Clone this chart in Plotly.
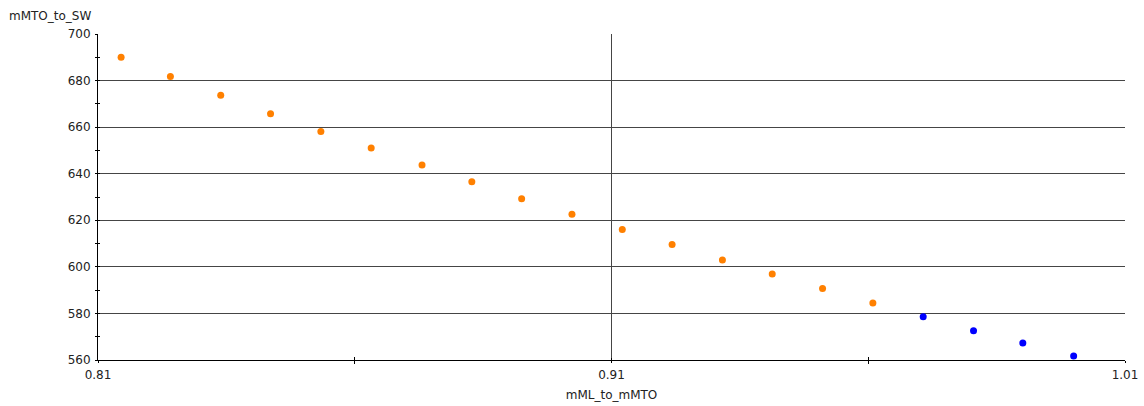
import plotly.graph_objects as go

# mML_to_mMTO sweep and the resulting mMTO_to_SW values
x_orange = [0.8145, 0.8241, 0.8339, 0.8436, 0.8534, 0.8632, 0.8731, 0.8828,
            0.8925, 0.9023, 0.9121, 0.9218, 0.9316, 0.9413, 0.9511, 0.9609]
y_orange = [690.0, 681.7, 673.7, 665.8, 658.1, 651.0, 643.7, 636.5,
            629.3, 622.6, 616.0, 609.6, 602.9, 596.9, 590.7, 584.5]
x_blue = [0.9707, 0.9805, 0.9901, 1.0000]
y_blue = [578.6, 572.6, 567.3, 561.7]

x_ticks = [0.81, 0.91, 1.01]
x_tick_text = ["0.81", "0.91", "1.01"]
y_ticks = [560, 580, 600, 620, 640, 660, 680, 700]

FONT = dict(family="DejaVu Sans", size=12, color="#222222")
GRID = "#454545"

fig = go.Figure()
fig.add_trace(go.Scatter(x=x_orange, y=y_orange, mode="markers",
                         marker=dict(color="#FF8000", size=7), showlegend=False))
fig.add_trace(go.Scatter(x=x_blue, y=y_blue, mode="markers",
                         marker=dict(color="#0000FF", size=7), showlegend=False))

fig.update_layout(
    width=1144, height=406,
    margin=dict(l=98, r=19, t=34, b=46, autoexpand=False),
    paper_bgcolor="white", plot_bgcolor="white",
    font=FONT,
    xaxis=dict(range=[0.81, 1.01], tickvals=x_ticks, ticktext=x_tick_text,
               automargin=False,
               showgrid=True, gridcolor=GRID, gridwidth=1,
               showline=True, linecolor="black", linewidth=1,
               ticks="outside", ticklen=2, tickcolor="black",
               minor=dict(tickvals=[0.86, 0.96], ticks="outside", ticklen=3,
                          tickcolor="black", showgrid=False),
               zeroline=False, ticklabelstandoff=2,
               title=dict(text="mML_to_mMTO", font=FONT, standoff=9)),
    yaxis=dict(range=[560, 700], tickvals=y_ticks, automargin=False,
               showgrid=True, gridcolor=GRID, gridwidth=1,
               showline=True, linecolor="black", linewidth=1,
               ticks="outside", ticklen=2, tickcolor="black",
               minor=dict(dtick=10, ticks="outside", ticklen=2,
                          tickcolor="black", showgrid=False),
               zeroline=False, ticklabelstandoff=2),
    # inside halves of the tick marks so they straddle the axis lines
    xaxis2=dict(overlaying="x", matches="x", range=[0.81, 1.01], tickvals=x_ticks,
                showticklabels=False, showgrid=False, ticks="inside", ticklen=2,
                tickcolor="black", side="bottom", automargin=False,
                minor=dict(tickvals=[0.86, 0.96], ticks="inside", ticklen=3,
                           tickcolor="black", showgrid=False)),
    yaxis2=dict(overlaying="y", matches="y", range=[560, 700], tickvals=y_ticks,
                showticklabels=False, showgrid=False, ticks="inside", ticklen=2,
                tickcolor="black", side="left", automargin=False,
                minor=dict(dtick=10, ticks="inside", ticklen=2,
                           tickcolor="black", showgrid=False)),
    annotations=[dict(text="mMTO_to_SW", xref="paper", yref="paper", x=0, y=1,
                      xanchor="left", yanchor="middle", xshift=-91, yshift=18,
                      showarrow=False, font=FONT)],
)
# invisible trace to bring the overlay axes into the figure
fig.add_trace(go.Scatter(x=[x_orange[0]], y=[y_orange[0]], xaxis="x2", yaxis="y2",
                         mode="markers", marker=dict(opacity=0), showlegend=False,
                         hoverinfo="skip"))

fig.write_html("out.html")
